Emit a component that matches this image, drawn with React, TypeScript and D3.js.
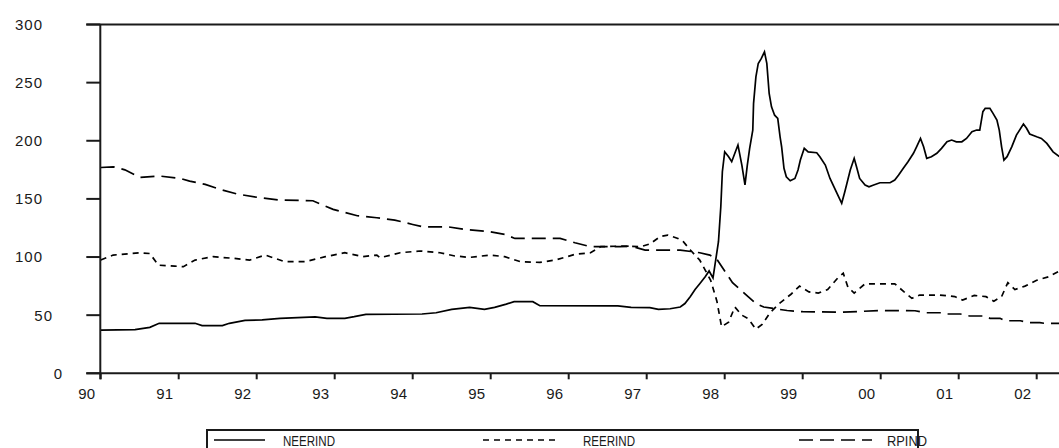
import React from "react";
import * as d3 from "d3";

// ---- data (decimal year, index value) ----
const YEAR_TICKS = [1990, 1991, 1992, 1993, 1994, 1995, 1996, 1997, 1998, 1999, 2000, 2001, 2002];
const YEAR_LABELS = ["90", "91", "92", "93", "94", "95", "96", "97", "98", "99", "00", "01", "02"];
const VALUE_TICKS = [0, 50, 100, 150, 200, 250, 300];

const NEERIND: [number, number][] = [
  [1990.0, 37.2], [1990.44, 37.5], [1990.63, 39.5], [1990.75, 43], [1991.21, 43], [1991.3, 41],
  [1991.56, 41], [1991.65, 43], [1991.85, 45.5], [1992.07, 46], [1992.3, 47.3], [1992.75, 48.5],
  [1992.9, 47.3], [1993.13, 47.3], [1993.25, 48.7], [1993.4, 50.7], [1994.12, 51], [1994.3, 52.1],
  [1994.5, 55], [1994.73, 56.7], [1994.92, 55], [1995.05, 56.7], [1995.2, 59.5], [1995.3, 61.6],
  [1995.54, 61.6], [1995.63, 58.1], [1996.63, 58], [1996.8, 56.7], [1997.04, 56.5], [1997.15, 55],
  [1997.3, 55.5], [1997.43, 57], [1997.49, 60], [1997.56, 66], [1997.62, 72], [1997.68, 77],
  [1997.75, 83], [1997.8, 88], [1997.85, 82], [1997.92, 113.2], [1997.95, 143.3], [1997.97, 173.4],
  [1998.0, 190.5], [1998.05, 186.3], [1998.09, 182], [1998.13, 189.2], [1998.17, 196.3],
  [1998.22, 179.1], [1998.26, 162], [1998.29, 179.1], [1998.32, 193.5], [1998.36, 209.2],
  [1998.37, 232.2], [1998.4, 255], [1998.43, 266.5], [1998.47, 270.8], [1998.51, 276.5],
  [1998.54, 266.5], [1998.57, 240.7], [1998.6, 229.2], [1998.64, 222], [1998.68, 219.3],
  [1998.71, 203.4], [1998.73, 194.8], [1998.76, 176.3], [1998.79, 169], [1998.84, 165.6],
  [1998.9, 167.6], [1998.94, 174.8], [1998.97, 183.4], [1999.02, 193.5], [1999.07, 190.5],
  [1999.18, 189.7], [1999.22, 186.3], [1999.29, 179.1], [1999.35, 167.6], [1999.44, 154.8],
  [1999.5, 146.2], [1999.54, 156.1], [1999.61, 174.8], [1999.66, 184.9], [1999.69, 177.6],
  [1999.73, 167.6], [1999.8, 162], [1999.85, 160.4], [1999.91, 162], [1999.99, 163.9],
  [2000.12, 163.9], [2000.18, 166.2], [2000.23, 170.5], [2000.29, 176.3], [2000.35, 182],
  [2000.42, 189.2], [2000.46, 194.8], [2000.51, 202], [2000.55, 194.8], [2000.59, 184.9],
  [2000.65, 186.3], [2000.72, 189.2], [2000.78, 193.5], [2000.85, 199.1], [2000.91, 200.6],
  [2000.97, 199.1], [2001.04, 199.1], [2001.1, 202], [2001.17, 207.7], [2001.23, 209.2],
  [2001.27, 209.2], [2001.31, 225], [2001.34, 227.9], [2001.4, 227.9], [2001.44, 223.6],
  [2001.49, 217.8], [2001.52, 209.2], [2001.55, 194.8], [2001.58, 183.4], [2001.62, 186.3],
  [2001.68, 194.8], [2001.74, 204.9], [2001.83, 214.4], [2001.87, 210.7], [2001.91, 205.8],
  [2002.0, 203.4], [2002.06, 202], [2002.13, 197.7], [2002.21, 190.5], [2002.29, 186.3],
];

const REERIND: [number, number][] = [
  [1990.0, 97.4], [1990.16, 101.7], [1990.5, 103.7], [1990.63, 103], [1990.74, 93], [1990.95, 92.2],
  [1991.06, 91.7], [1991.21, 97.4], [1991.44, 100.3], [1991.7, 98.9], [1991.91, 97.4],
  [1992.11, 101.7], [1992.36, 96], [1992.62, 96], [1992.88, 100.3], [1993.13, 103.7],
  [1993.36, 100.3], [1993.54, 101.7], [1993.58, 99.4], [1993.84, 103.7], [1994.09, 105.2],
  [1994.35, 103.7], [1994.54, 100.9], [1994.73, 99.7], [1994.99, 101.7], [1995.18, 100.3],
  [1995.38, 96], [1995.63, 95.4], [1995.83, 97.4], [1996.08, 102.3], [1996.28, 103.7],
  [1996.41, 108.9], [1996.66, 109.4], [1996.92, 108.9], [1997.04, 111.2], [1997.17, 117.5],
  [1997.27, 118.9], [1997.4, 116], [1997.47, 113.2], [1997.56, 106], [1997.68, 97.4],
  [1997.75, 88.8], [1997.82, 80], [1997.9, 62], [1997.96, 40], [1998.05, 44], [1998.13, 57],
  [1998.22, 50], [1998.3, 47], [1998.4, 38], [1998.48, 42], [1998.58, 52], [1998.7, 60],
  [1998.85, 68], [1998.96, 75], [1999.08, 70], [1999.2, 69], [1999.32, 72], [1999.45, 82],
  [1999.52, 86], [1999.58, 74], [1999.66, 69], [1999.8, 77], [2000.0, 77], [2000.18, 77],
  [2000.3, 70], [2000.4, 64.5], [2000.5, 67.3], [2000.75, 67.3], [2000.95, 66], [2001.05, 63],
  [2001.2, 67], [2001.35, 65.9], [2001.45, 62], [2001.55, 66], [2001.63, 78], [2001.72, 72],
  [2001.85, 75], [2002.0, 80], [2002.15, 83], [2002.29, 88],
];

const RPIND: [number, number][] = [
  [1990.0, 177], [1990.16, 177.6], [1990.31, 175], [1990.5, 168.5], [1990.76, 169.6],
  [1991.02, 167.6], [1991.14, 165.3], [1991.34, 162.5], [1991.53, 158.2], [1991.75, 154.2],
  [1992.04, 151], [1992.3, 149], [1992.72, 148.4], [1992.98, 141], [1993.29, 135.5],
  [1993.54, 133.8], [1993.77, 131.8], [1994.0, 128], [1994.13, 126], [1994.45, 126],
  [1994.67, 123.8], [1994.99, 121.8], [1995.18, 119.5], [1995.31, 116], [1995.89, 116],
  [1996.08, 112.3], [1996.28, 108.9], [1996.66, 108.9], [1996.79, 109.5], [1996.98, 106],
  [1997.43, 106], [1997.68, 103.7], [1997.81, 101.7], [1997.9, 98], [1998.0, 88], [1998.1, 78],
  [1998.2, 72], [1998.3, 66], [1998.4, 60], [1998.5, 57], [1998.6, 56], [1998.8, 54],
  [1999.0, 53], [1999.5, 52.5], [2000.0, 54], [2000.44, 53.8], [2000.57, 52.1], [2000.76, 52.1],
  [2000.82, 51], [2001.02, 51], [2001.14, 49.3], [2001.34, 49.3], [2001.4, 47.3], [2001.53, 47.3],
  [2001.59, 45.2], [2001.79, 45.2], [2001.91, 43.5], [2002.04, 43.5], [2002.1, 43], [2002.29, 43],
];

const SERIES = [
  { name: "NEERIND", data: NEERIND, dash: "none" },
  { name: "REERIND", data: REERIND, dash: "6 5" },
  { name: "RPIND", data: RPIND, dash: "14 7" },
];

const W = 1059;
const H = 448;
const FONT = "'Liberation Sans', Arial, sans-serif";
const INK = "#1a1a1a";

export default function App() {
  const x = d3.scaleLinear().domain([1990, 2002]).range([100.7, 1036.7]);
  const y = d3.scaleLinear().domain([0, 300]).range([373.3, 24.5]);
  const line = d3
    .line<[number, number]>()
    .x((d) => x(d[0]))
    .y((d) => y(d[1]));

  const axisLeft = x(1990) - 0.4;
  const tickLeft = axisLeft - 14;

  const legendItems = [
    { x1: 214, x2: 265, tx: 283, tw: 52 },
    { x1: 483, x2: 558, tx: 583, tw: 52 },
    { x1: 799, x2: 872, tx: 887, tw: 40 },
  ];

  return (
    <svg
      width={W}
      height={H}
      style={{ position: "absolute", left: 0, top: 0, background: "#fff" }}
    >
      <defs>
        <clipPath id="plot">
          <rect x={axisLeft} y={0} width={W - axisLeft} height={y(0)} />
        </clipPath>
      </defs>

      {/* series */}
      <g clipPath="url(#plot)">
        {SERIES.map((s) => (
          <path
            key={s.name}
            d={line(s.data) || ""}
            fill="none"
            stroke="#000"
            strokeWidth={1.7}
            strokeDasharray={s.dash}
          />
        ))}
      </g>

      {/* frame: top line, left axis, bottom axis */}
      <line x1={tickLeft} x2={W} y1={y(300)} y2={y(300)} stroke={INK} strokeWidth={2} />
      <line x1={tickLeft} x2={W} y1={y(0)} y2={y(0)} stroke={INK} strokeWidth={2} />
      <line x1={axisLeft} x2={axisLeft} y1={y(300)} y2={y(0) + 6} stroke={INK} strokeWidth={2} />

      {/* y ticks and labels */}
      {VALUE_TICKS.map((v) => {
        const label = String(v);
        return (
          <g key={v}>
            <line x1={tickLeft} x2={axisLeft} y1={y(v)} y2={y(v)} stroke={INK} strokeWidth={2} />
            <text
              x={73 - 10 * label.length}
              y={y(v)}
              dy="0.36em"
              textAnchor="end"
              fontFamily={FONT}
              fontSize={15}
              letterSpacing={1}
              fill={INK}
            >
              {label}
            </text>
          </g>
        );
      })}

      {/* x ticks and labels */}
      {YEAR_TICKS.map((t, i) => (
        <g key={t}>
          <line x1={x(t)} x2={x(t)} y1={y(0)} y2={y(0) + 6} stroke={INK} strokeWidth={2} />
          <text
            x={x(t) - 14}
            y={399}
            textAnchor="middle"
            fontFamily={FONT}
            fontSize={15}
            fill={INK}
          >
            {YEAR_LABELS[i]}
          </text>
        </g>
      ))}

      {/* legend */}
      <rect x={207} y={430} width={711} height={40} fill="none" stroke={INK} strokeWidth={2} />
      {SERIES.map((s, i) => {
        const it = legendItems[i];
        return (
          <g key={s.name}>
            <line
              x1={it.x1}
              x2={it.x2}
              y1={440}
              y2={440}
              stroke="#000"
              strokeWidth={1.7}
              strokeDasharray={s.dash}
            />
            <text
              x={it.tx}
              y={446}
              fontFamily={FONT}
              fontSize={15}
              fill={INK}
              textLength={it.tw}
              lengthAdjust="spacingAndGlyphs"
            >
              {s.name}
            </text>
          </g>
        );
      })}
    </svg>
  );
}
